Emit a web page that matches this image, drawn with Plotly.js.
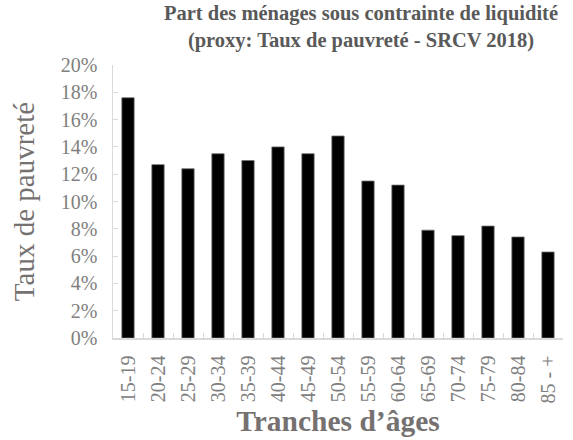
<!DOCTYPE html>
<html>
<head>
<meta charset="utf-8">
<script src="https://cdn.plot.ly/plotly-3.0.1.min.js"></script>
<style>html,body{margin:0;padding:0;background:#fff;}#chart{width:573px;height:440px;}</style>
</head>
<body>
<div id="chart"></div>
<script>
const categories = ["15-19","20-24","25-29","30-34","35-39","40-44","45-49","50-54","55-59","60-64","65-69","70-74","75-79","80-84","85 - +"];
const tauxPauvrete = [0.176, 0.127, 0.124, 0.135, 0.130, 0.140, 0.135, 0.148, 0.115, 0.112, 0.079, 0.075, 0.082, 0.074, 0.063];
const chartTitle = "Part des ménages sous contrainte de liquidité<br>(proxy: Taux de pauvreté - SRCV 2018)";
const xTitle = "Tranches d’âges";
const yTitle = "Taux de pauvreté";

const serif = "Liberation Serif, Times New Roman, serif";

Plotly.newPlot("chart", [{
  type: "bar",
  x: categories,
  y: tauxPauvrete,
  marker: {color: "#000000", line: {color: "#6e6e6e", width: 0.8}},
  hoverinfo: "x+y"
}], {
  width: 573, height: 440,
  margin: {l: 113, r: 10, t: 65, b: 102},
  paper_bgcolor: "#ffffff", plot_bgcolor: "#ffffff",
  bargap: 0.59,
  showlegend: false,
  annotations: [{
    text: "<b>" + chartTitle + "</b>",
    font: {family: serif, size: 20.5, color: "#595959"},
    xref: "paper", yref: "paper",
    x: 0.55, y: 1.238, xanchor: "center", yanchor: "top",
    align: "center", showarrow: false
  }],
  xaxis: {
    type: "category",
    showline: true, linecolor: "#d9d9d9", linewidth: 1.5,
    ticks: "inside", tickson: "boundaries", ticklen: 5, tickcolor: "#d9d9d9", tickwidth: 1,
    tickangle: -90, ticklabelstandoff: 8,
    tickfont: {family: serif, size: 20, color: "#808080"},
    showgrid: false, zeroline: false, automargin: false,
    title: {text: "<b>" + xTitle + "</b>", font: {family: serif, size: 29.5, color: "#767171"}, standoff: 8}
  },
  yaxis: {
    range: [0, 0.2], dtick: 0.02, tickformat: ".0%",
    showline: true, linecolor: "#d9d9d9", linewidth: 1.5,
    ticks: "inside", ticklen: 5, tickcolor: "#d9d9d9", tickwidth: 1,
    ticklabelstandoff: 10,
    tickfont: {family: serif, size: 20, color: "#808080"},
    showgrid: false, zeroline: false, automargin: false,
    title: {text: yTitle, font: {family: serif, size: 29, color: "#767171"}, standoff: 17}
  }
}, {displayModeBar: false, staticPlot: true});
</script>
</body>
</html>
